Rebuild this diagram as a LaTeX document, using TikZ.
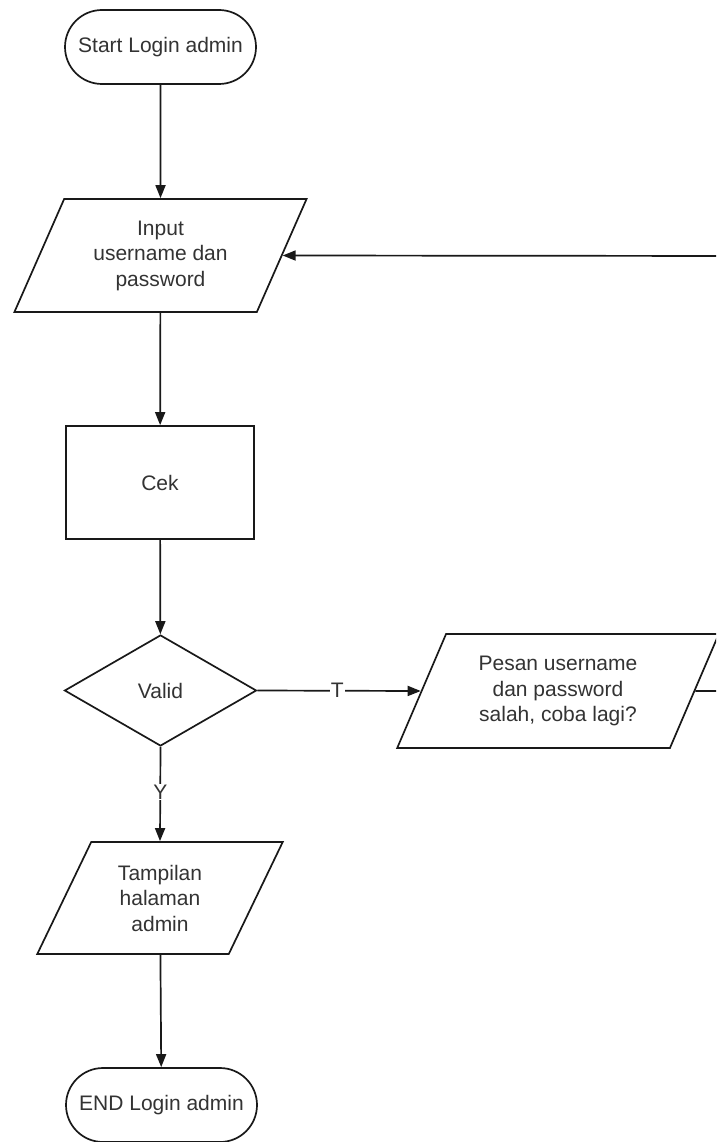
\documentclass[tikz,border=0pt]{standalone}
\usepackage{fontspec}
\setmainfont{Liberation Sans}
\usetikzlibrary{shapes.geometric,arrows.meta}
\begin{document}
\begin{tikzpicture}[x=1pt,y=-1pt,
  every node/.style={font=\fontsize{21}{25.5}\selectfont, text=black!80, align=center},
  line/.style={draw=black!90, line width=1.7pt},
  arr/.style={line, -{Triangle[length=13pt,width=10pt]}},
  term/.style={line, fill=white, rectangle, rounded corners=37pt, minimum width=191pt, minimum height=74pt, inner sep=0pt},
  proc/.style={line, fill=white, rectangle, minimum width=188pt, minimum height=113pt, inner sep=0pt},
  io/.style={line, fill=white, trapezium, trapezium left angle=63.6, trapezium right angle=116.4, trapezium stretches=true, inner sep=0pt},
  dec/.style={line, fill=white, diamond, minimum width=192pt, minimum height=111pt, inner sep=0pt},
  lbl/.style={fill=white, inner sep=1pt}
]
\useasboundingbox (0,0) rectangle (716,1142);
\clip (0,0) rectangle (716,1142);
\fill[white] (0,0) rectangle (716,1142);

\node[term] (start) at (160.5,47) {Start Login admin};
\node[io, minimum width=293pt, minimum height=113pt] (input) at (160.5,255.5) {Input\\username dan\\password};
\node[proc] (cek) at (160,482.5) {Cek};
\node[dec] (valid) at (160.5,690.5) {Valid};
\node[io, minimum width=322pt, minimum height=114pt] (pesan) at (558,691) {Pesan username\\dan password\\salah, coba lagi?};
\node[io, minimum width=246pt, minimum height=112pt] (tampil) at (160,898) {Tampilan\\halaman\\admin};
\node[term] (end) at (161.5,1105) {END Login admin};
\coordinate (c1) at (745,691);
\coordinate (c2) at (745,256);

\draw[arr] (start) -- (input);
\draw[arr] (input) -- (cek);
\draw[arr] (cek) -- (valid);
\draw[arr] (valid.east) -- node[lbl, pos=0.49] {T} (pesan.west);
\draw[arr] (valid.south) -- node[lbl, pos=0.48] {Y} (tampil.north);
\draw[arr] (tampil) -- (end);
\draw[line] (pesan.east) -- (c1) -- (c2);
\draw[arr] (c2) -- (input.east);
\end{tikzpicture}
\end{document}
